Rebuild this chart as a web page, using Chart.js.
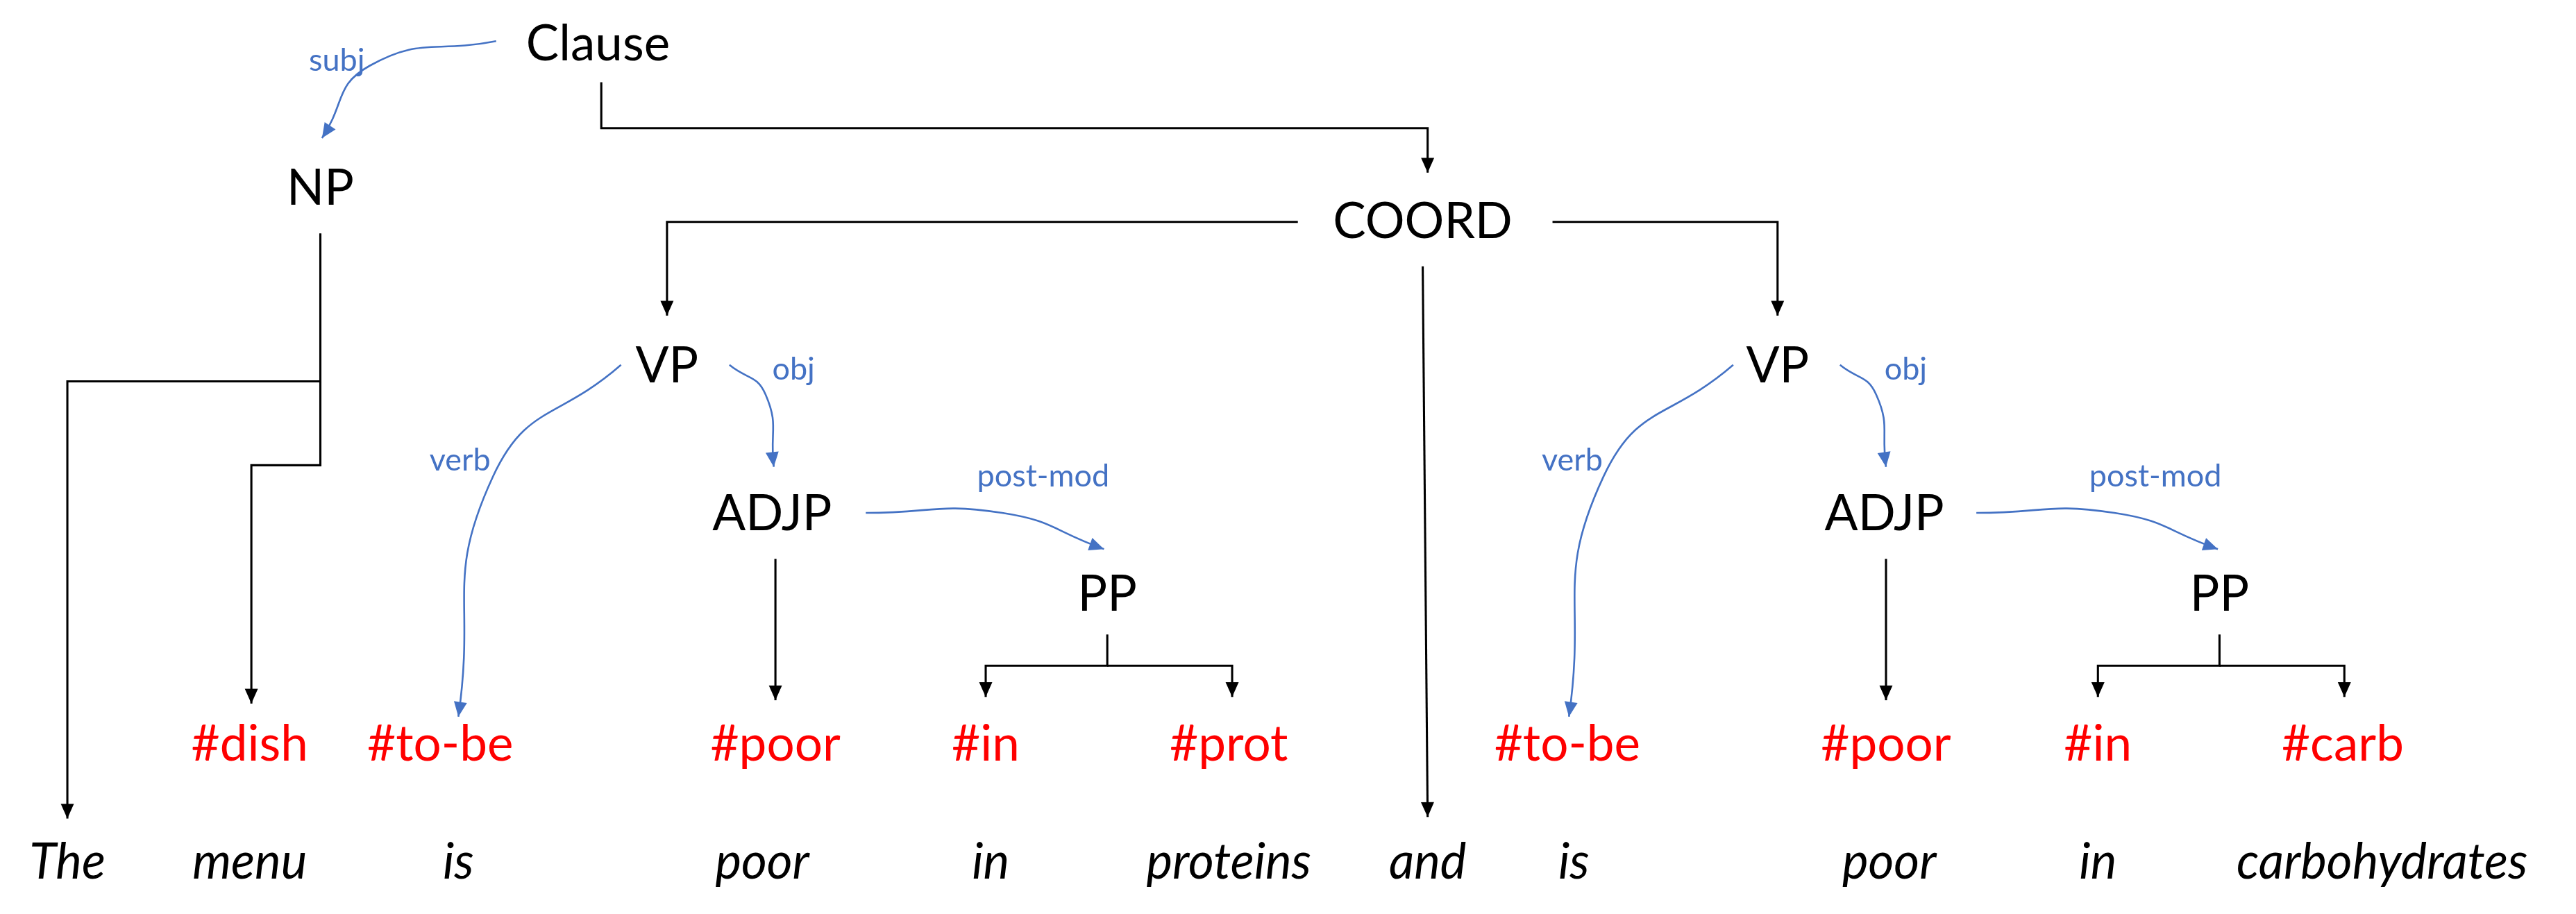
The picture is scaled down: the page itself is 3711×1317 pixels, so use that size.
<!DOCTYPE html>
<html>
<head>
<meta charset="utf-8">
<script src="https://cdn.jsdelivr.net/npm/chart.js@4/dist/chart.umd.min.js"></script>
<style>
  html, body { margin: 0; padding: 0; background: #fff; }
  #wrap { width: 3711px; height: 1317px; }
</style>
</head>
<body>
<div id="wrap"><canvas id="tree"></canvas></div>
<script>
// units: reference picture scaled to 1568 x 556
var nodeLabels = ["Clause", "NP", "COORD", "VP", "VP", "ADJP", "ADJP", "PP", "PP"];
var nodeX = [364, 195, 866, 406, 1082, 470, 1147, 674, 1351];
var nodeY = [27, 115, 135, 223, 223, 313, 313, 362, 362];

var tagLabels = ["#dish", "#to-be", "#poor", "#in", "#prot", "#to-be", "#poor", "#in", "#carb"];
var tagX = [152, 268, 472, 600, 748, 954, 1148, 1277, 1426];
var tagY = 453;

var words = ["The", "menu", "is", "poor", "in", "proteins", "and", "is", "poor", "in", "carbohydrates"];
var wordX = [41, 152, 279, 464, 603, 748, 869, 958, 1150, 1277, 1450];
var wordY = 525;

// black tree edges, each ends in an arrow
var blackEdges = [
    [[366, 50], [366, 78], [869, 78], [869, 105]],
    [[790, 135], [406, 135], [406, 192]],
    [[945, 135], [1082, 135], [1082, 192]],
    [[866, 162], [869, 497]],
    [[195, 142], [195, 232], [41, 232], [41, 498]],
    [[195, 232], [195, 283], [153, 283], [153, 428]],
    [[472, 340], [472, 426]],
    [[1148, 340], [1148, 426]],
    [[674, 386], [674, 405], [600, 405], [600, 424]],
    [[674, 405], [750, 405], [750, 424]],
    [[1351, 386], [1351, 405], [1277, 405], [1277, 424]],
    [[1351, 405], [1427, 405], [1427, 424]]
];

// blue relation arcs: start, bend, end
var relNames = ["subj", "verb", "obj", "post-mod", "verb", "obj", "post-mod"];
var relArcs = [
    [[302, 25], [225, 40], [196, 84]],
    [[378, 222], [300, 290], [279, 436]],
    [[444, 222], [466, 240], [471, 284]],
    [[527, 312], [610, 312], [672, 334]],
    [[1055, 222], [976, 290], [955, 436]],
    [[1120, 222], [1142, 240], [1148, 284]],
    [[1203, 312], [1287, 312], [1350, 334]]
];
var relLabelX = [205, 280, 483, 635, 957, 1160, 1312];
var relLabelY = [37, 280, 225, 290, 280, 225, 290];

var S = 3711 / 1568;
var BLUE = "#4472c4";

var datasets = [];
blackEdges.forEach(function (e) {
    datasets.push({
        type: "line",
        data: e.map(function (p) { return {x: p[0], y: p[1]}; }),
        borderColor: "#000", borderWidth: 1.3 * S, pointRadius: 0, tension: 0, arrow: "#000"
    });
});
relArcs.forEach(function (e) {
    datasets.push({
        type: "line",
        data: e.map(function (p) { return {x: p[0], y: p[1]}; }),
        borderColor: BLUE, borderWidth: 1.1 * S, pointRadius: 0, tension: 0.5, arrow: BLUE
    });
});

var textPlugin = {
    id: "treeText",
    afterDatasetsDraw: function (chart) {
        var ctx = chart.ctx;
        var xs = chart.scales.x, ys = chart.scales.y;
        function px(x) { return xs.getPixelForValue(x); }
        function py(y) { return ys.getPixelForValue(y); }

        // arrowheads
        chart.data.datasets.forEach(function (ds, i) {
            var pts = chart.getDatasetMeta(i).data;
            var n = pts.length;
            var a = pts[n - 1], b = pts[n - 2];
            var cp = a.options && a.cp1x !== undefined ? {x: a.cp1x, y: a.cp1y} : b;
            var ang = Math.atan2(a.y - cp.y, a.x - cp.x);
            var L = 9 * S, W = 4 * S;
            ctx.save();
            ctx.fillStyle = ds.arrow;
            ctx.translate(a.x, a.y);
            ctx.rotate(ang);
            ctx.beginPath();
            ctx.moveTo(0, 0);
            ctx.lineTo(-L, -W);
            ctx.lineTo(-L, W);
            ctx.closePath();
            ctx.fill();
            ctx.restore();
        });

        ctx.save();
        ctx.textAlign = "center";
        ctx.textBaseline = "middle";
        ctx.fillStyle = "#000";
        ctx.font = (30 * S) + "px Lato";
        nodeLabels.forEach(function (t, i) { ctx.fillText(t, px(nodeX[i]), py(nodeY[i])); });

        ctx.fillStyle = "#ff0000";
        tagLabels.forEach(function (t, i) { ctx.fillText(t, px(tagX[i]), py(tagY)); });

        ctx.fillStyle = "#000";
        ctx.font = "italic " + (30 * S) + "px Lato";
        words.forEach(function (t, i) { ctx.fillText(t, px(wordX[i]), py(wordY)); });

        ctx.fillStyle = BLUE;
        ctx.font = (19 * S) + "px Lato";
        relNames.forEach(function (t, i) { ctx.fillText(t, px(relLabelX[i]), py(relLabelY[i])); });
        ctx.restore();
    }
};

new Chart(document.getElementById("tree"), {
    type: "scatter",
    data: {datasets: datasets},
    options: {
        responsive: true,
        maintainAspectRatio: false,
        devicePixelRatio: 1,
        animation: false,
        layout: {padding: 0},
        plugins: {legend: {display: false}, tooltip: {enabled: false}},
        scales: {
            x: {type: "linear", min: 0, max: 1568, display: false},
            y: {type: "linear", min: 0, max: 556, reverse: true, display: false}
        }
    },
    plugins: [textPlugin]
});
</script>
</body>
</html>
